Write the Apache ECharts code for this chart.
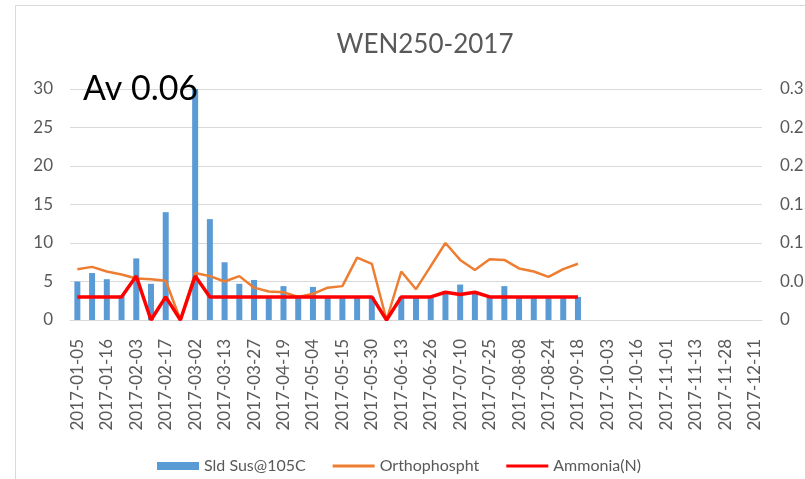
<!DOCTYPE html>
<html>
<head>
<meta charset="utf-8">
<script src="https://cdn.jsdelivr.net/npm/echarts@6/dist/echarts.min.js"></script>
<style>
  html, body { margin: 0; padding: 0; background: #fff; }
  #chart { width: 805px; height: 479px; }
</style>
</head>
<body>
<div id="chart"></div>
<script>
// sample dates (every other one is labelled on the axis)
const dates = [
  "2017-01-05", "2017-01-10", "2017-01-16", "2017-01-25", "2017-02-03", "2017-02-10",
  "2017-02-17", "2017-02-24", "2017-03-02", "2017-03-07", "2017-03-13", "2017-03-20",
  "2017-03-27", "2017-04-05", "2017-04-19", "2017-04-26", "2017-05-04", "2017-05-10",
  "2017-05-15", "2017-05-23", "2017-05-30", "2017-06-06", "2017-06-13", "2017-06-20",
  "2017-06-26", "2017-07-03", "2017-07-10", "2017-07-18", "2017-07-25", "2017-08-01",
  "2017-08-08", "2017-08-16", "2017-08-24", "2017-09-05", "2017-09-18", "2017-09-26",
  "2017-10-03", "2017-10-10", "2017-10-16", "2017-10-24", "2017-11-01", "2017-11-07",
  "2017-11-13", "2017-11-21", "2017-11-28", "2017-12-05", "2017-12-11"
];

// suspended solids (left axis)
const solids = [
  5.0, 6.1, 5.3, 3.2, 8.0, 4.7, 14.0, 0, 30.0, 13.1, 7.5, 4.7,
  5.2, 3.0, 4.4, 3.0, 4.3, 3.0, 3.0, 3.0, 3.0, 0, 3.0, 3.0,
  3.0, 3.7, 4.6, 3.7, 3.0, 4.4, 3.0, 3.0, 3.0, 3.0, 3.0
];

// orthophosphate (right axis)
const ortho = [
  0.066, 0.069, 0.063, 0.059, 0.054, 0.053, 0.051, 0, 0.061, 0.057, 0.050, 0.057,
  0.042, 0.037, 0.036, 0.030, 0.034, 0.042, 0.044, 0.081, 0.073, 0, 0.063, 0.040,
  0.070, 0.100, 0.078, 0.065, 0.079, 0.078, 0.067, 0.063, 0.056, 0.066, 0.073
];

// ammonia (right axis)
const ammonia = [
  0.03, 0.03, 0.03, 0.03, 0.057, 0, 0.03, 0, 0.057, 0.03, 0.03, 0.03,
  0.03, 0.03, 0.03, 0.03, 0.03, 0.03, 0.03, 0.03, 0.03, 0, 0.03, 0.03,
  0.03, 0.036, 0.033, 0.036, 0.03, 0.03, 0.03, 0.03, 0.03, 0.03, 0.03
];

const font = "Lato, 'Open Sans', sans-serif";
const grey = "#595959";
const lineIcon = "path://M0,0L42,0L42,3L0,3Z";

const chart = echarts.init(document.getElementById("chart"));

chart.setOption({
  backgroundColor: "#fff",
  animation: false,
  title: {
    text: "WEN250-2017",
    left: 420,
    textAlign: "center",
    top: 27,
    textStyle: { fontFamily: font, fontSize: 26, fontWeight: "normal", color: grey }
  },
  graphic: [
    {
      type: "rect",
      shape: { x: 15.5, y: 5.5, width: 820, height: 500 },
      style: { fill: "none", stroke: "#d9d9d9", lineWidth: 1 },
      silent: true
    },
    {
      type: "text",
      left: 83,
      top: 72,
      z: 100,
      style: { text: "Av 0.06", fontFamily: font, fontSize: 34, fill: "#000" }
    }
  ],
  legend: {
    left: 152,
    top: 453,
    itemGap: 27,
    itemWidth: 42,
    itemHeight: 8,
    textStyle: { fontFamily: font, fontSize: 16, color: grey },
    data: [
      { name: "Sld Sus@105C", icon: "rect" },
      { name: "Orthophospht", icon: lineIcon },
      { name: "Ammonia(N)", icon: lineIcon }
    ]
  },
  // the right-hand labels run off the edge of the picture, so don't squeeze the grid
  grid: { left: 70, right: 43, top: 89, bottom: 159, outerBoundsMode: "none" },
  xAxis: {
    type: "category",
    data: dates,
    boundaryGap: true,
    axisLine: { lineStyle: { color: "#d9d9d9" } },
    axisTick: { show: false },
    axisLabel: {
      interval: 1,
      rotate: 90,
      margin: 19,
      fontFamily: font,
      fontSize: 17,
      color: grey
    }
  },
  yAxis: [
    {
      type: "value",
      min: 0,
      max: 30,
      interval: 5,
      axisLine: { show: false },
      axisTick: { show: false },
      axisLabel: { margin: 17, fontFamily: font, fontSize: 17, color: grey },
      splitLine: { lineStyle: { color: "#d9d9d9" } }
    },
    {
      type: "value",
      min: 0,
      max: 0.3,
      interval: 0.05,
      axisLine: { show: false },
      axisTick: { show: false },
      axisLabel: { margin: 18, fontFamily: font, fontSize: 17, color: grey },
      splitLine: { show: false }
    }
  ],
  series: [
    {
      name: "Sld Sus@105C",
      type: "bar",
      data: solids,
      barWidth: 6,
      itemStyle: { color: "#5b9bd5" }
    },
    {
      name: "Orthophospht",
      type: "line",
      yAxisIndex: 1,
      data: ortho,
      symbol: "none",
      lineStyle: { color: "#ed7d31", width: 2.5 },
      itemStyle: { color: "#ed7d31" },
      z: 3
    },
    {
      name: "Ammonia(N)",
      type: "line",
      yAxisIndex: 1,
      data: ammonia,
      symbol: "none",
      lineStyle: { color: "#ff0000", width: 3.5 },
      itemStyle: { color: "#ff0000" },
      z: 4
    }
  ]
});
</script>
</body>
</html>
